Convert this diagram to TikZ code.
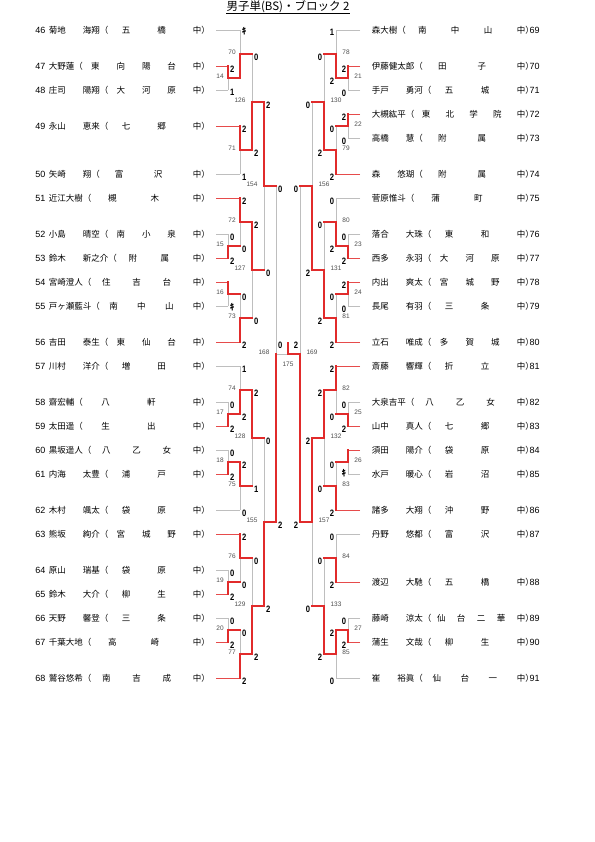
\documentclass[tikz,border=0pt]{standalone}
\usepackage{fontspec}
\setmainfont{Liberation Sans}
\newfontfamily\jpfont{Noto Sans CJK JP}
\newfontfamily\scorefont{Liberation Sans}[FakeStretch=0.82]
\usetikzlibrary{calc}
\definecolor{winred}{HTML}{E12B2B}
\definecolor{losegray}{HTML}{BEBEBE}
\definecolor{labelgray}{HTML}{4D4D4D}
\newcommand{\spreadchars}[1]{\spreadstep#1\relax}
\newcommand{\spreadstep}[1]{\ifx#1\relax\else\hskip0pt plus2fil\relax#1\expandafter\spreadstep\fi}
\newcommand{\entrytext}[3]{\hbox to #1{#2（\hskip0pt plus-1fil\relax\expandafter\spreadchars\expandafter{#3中}）}}
\tikzset{
  winline/.style={draw=winred,line width=1.4pt,line cap=rect},
  playerwin/.style={draw=winred!85!white,line width=0.9pt},
  loseline/.style={draw=losegray,line width=0.9pt},
  playername/.style={font=\jpfont\fontsize{8.5bp}{10bp}\selectfont,inner sep=0pt,anchor=west},
  entrynum/.style={font=\fontsize{9bp}{10bp}\selectfont,inner sep=0pt},
  gamescore/.style={font=\scorefont\bfseries\fontsize{9.3bp}{10bp}\selectfont,inner sep=0pt},
  kikenmark/.style={font=\jpfont\bfseries\fontsize{9bp}{10bp}\selectfont,inner sep=0pt},
  matchno/.style={font=\fontsize{6.5bp}{7bp}\selectfont,text=labelgray,inner sep=0pt},
  titletext/.style={font=\jpfont\fontsize{11.5bp}{13bp}\selectfont,inner sep=0pt}
}
\begin{document}
\begin{tikzpicture}[x=1bp,y=-1bp]
  \fill[white] (0,0) rectangle (595,842);
  \useasboundingbox (0,0) rectangle (595,842);
  % title
  \node[titletext,anchor=base] (title) at (288,10) {男子単(BS)・ブロック 2};
  \draw[line width=0.6pt] ([yshift=-0.6bp]title.south west) -- ([yshift=-0.6bp]title.south east);

  % players, left half
  \foreach \pid/\kk/\pname/\pschool in {46/0/菊地　　海翔/五橋,47/3/大野蓮/東向陽台,48/5/庄司　　陽翔/大河原,49/8/永山　　恵来/七郷,50/12/矢崎　　翔/富沢,51/14/近江大樹/槻木,52/17/小島　　晴空/南小泉,53/19/鈴木　　新之介/附属,54/21/宮崎澄人/住吉台,55/23/戸ヶ瀬藍斗/南中山,56/26/吉田　　泰生/東仙台,57/28/川村　　洋介/増田,58/31/齋宏輔/八軒,59/33/太田遥/生出,60/35/黒坂遥人/八乙女,61/37/内海　　太豊/浦戸,62/40/木村　　颯太/袋原,63/42/熊坂　　絢介/宮城野,64/45/原山　　瑞基/袋原,65/47/鈴木　　大介/柳生,66/49/天野　　馨登/三条,67/51/千葉大地/高崎,68/54/鷲谷悠希/南吉成}{
    \node[playername] (n\pid) at (48.6,{30+12*\kk}) {\entrytext{161bp}{\pname}{\pschool}};
    \node[entrynum,anchor=east] (num\pid) at (45.5,{30+12*\kk}) {\pid};
    \coordinate (s\pid) at (216,{30+12*\kk});
  }
  % players, right half
  \foreach \pid/\kk/\pname/\pschool in {69/0/森大樹/南中山,70/3/伊藤健太郎/田子,71/5/手戸　　勇河/五城,72/7/大槻紘平/東北学院,73/9/高橋　　慧/附属,74/12/森　　悠瑚/附属,75/14/菅原惟斗/蒲町,76/17/落合　　大珠/東和,77/19/西多　　永羽/大河原,78/21/内出　　爽太/宮城野,79/23/長尾　　有羽/三条,80/26/立石　　唯成/多賀城,81/28/斎藤　　響輝/折立,82/31/大泉吉平/八乙女,83/33/山中　　真人/七郷,84/35/須田　　陽介/袋原,85/37/水戸　　暖心/岩沼,86/40/諸多　　大翔/沖野,87/42/丹野　　悠都/富沢,88/46/渡辺　　大馳/五橋,89/49/藤崎　　涼太/仙台二華,90/51/蒲生　　文哉/柳生,91/54/崔　　裕眞/仙台一}{
    \node[playername] (n\pid) at (371.6,{30+12*\kk}) {\entrytext{162bp}{\pname}{\pschool}};
    \node[entrynum,anchor=west] (num\pid) at (529.5,{30+12*\kk}) {\pid};
    \coordinate (s\pid) at (360,{30+12*\kk});
  }

  % match points
  \foreach \mm/\cx/\kk in {14/228/4,15/228/18,16/228/22,17/228/32,18/228/36,19/228/46,20/228/50,
      70/240/2,71/240/10,72/240/16,73/240/24,74/240/30,75/240/38,76/240/44,77/240/52,
      126/252/6,127/252/20,128/252/34,129/252/48,154/264/13,155/264/41,168/276/27,175/288/27,
      21/348/4,22/348/8,23/348/18,24/348/22,25/348/32,26/348/36,27/348/50,
      78/336/2,79/336/10,80/336/16,81/336/24,82/336/30,83/336/38,84/336/44,85/336/52,
      130/324/6,131/324/20,132/324/34,133/324/48,156/312/13,157/312/41,169/300/27}{
    \coordinate (m\mm) at (\cx,{30+12*\kk});
  }

  % losers
  \foreach \mm/\src/\hs in {14/s48/loseline,15/s52/loseline,16/s55/loseline,17/s58/loseline,18/s60/loseline,19/s64/loseline,20/s66/loseline,
      70/s46/loseline,71/s50/loseline,72/m15/winline,73/m16/winline,74/s57/loseline,75/s62/loseline,76/m19/winline,77/m20/winline,
      126/m70/winline,127/m73/winline,128/m75/winline,129/m76/winline,154/m127/winline,155/m128/winline,168/m154/winline,
      21/s71/loseline,22/s73/loseline,23/s76/loseline,24/s79/loseline,25/s82/loseline,26/s85/loseline,27/s89/loseline,
      78/s69/loseline,79/m22/winline,80/s75/loseline,81/m24/winline,82/m25/winline,83/m26/winline,84/s87/loseline,85/s91/loseline,
      130/m78/winline,131/m80/winline,132/m83/winline,133/m84/winline,156/m130/winline,157/m133/winline,169/m156/winline,
      175/m168/loseline}{
    \draw[loseline] (\src -| m\mm) -- (m\mm);
    \draw[\hs] (\src) -- (\src -| m\mm);
  }
  % winners
  \foreach \mm/\src/\hs in {14/s47/playerwin,15/s53/playerwin,16/s54/playerwin,17/s59/playerwin,18/s61/playerwin,19/s65/playerwin,20/s67/playerwin,
      70/m14/winline,71/s49/playerwin,72/s51/playerwin,73/s56/playerwin,74/m17/winline,75/m18/winline,76/s63/playerwin,77/s68/playerwin,
      126/m71/winline,127/m72/winline,128/m74/winline,129/m77/winline,154/m126/winline,155/m129/winline,168/m155/winline,
      21/s70/playerwin,22/s72/playerwin,23/s77/playerwin,24/s78/playerwin,25/s83/playerwin,26/s84/playerwin,27/s90/playerwin,
      78/m21/winline,79/s74/playerwin,80/m23/winline,81/s80/playerwin,82/s81/playerwin,83/s86/playerwin,84/s88/playerwin,85/m27/winline,
      130/m79/winline,131/m81/winline,132/m82/winline,133/m85/winline,156/m131/winline,157/m132/winline,169/m157/winline,
      175/m169/winline}{
    \draw[\hs] (\src) -- (\src -| m\mm);
    \draw[winline] (\src -| m\mm) -- (m\mm);
  }
  \coordinate (t175) at (288,343);
  \draw[winline] (m175) -- (t175);

  % scores
  \foreach \mm/\src/\sc in {14/s47/2,14/s48/1,15/s52/0,15/s53/2,17/s58/0,17/s59/2,18/s60/0,18/s61/2,19/s64/0,19/s65/2,20/s66/0,20/s67/2,
      71/s49/2,71/s50/1,72/s51/2,72/m15/0,73/m16/0,73/s56/2,74/s57/1,74/m17/2,75/m18/2,75/s62/0,76/s63/2,76/m19/0,77/m20/0,77/s68/2,
      126/m70/0,126/m71/2,127/m72/2,127/m73/0,128/m74/2,128/m75/1,129/m76/0,129/m77/2,
      154/m126/2,154/m127/0,155/m128/0,155/m129/2,168/m154/0,168/m155/2}{
    \node[gamescore,anchor=north west] (sc\mm-\src) at ($(\src -| m\mm)+(1.8,-0.6)$) {\sc};
  }
  \foreach \mm/\src/\sc in {21/s70/2,21/s71/0,22/s72/2,22/s73/0,23/s76/0,23/s77/2,24/s78/2,24/s79/0,25/s82/0,25/s83/2,27/s89/0,27/s90/2,
      78/s69/1,78/m21/2,79/m22/0,79/s74/2,80/s75/0,80/m23/2,81/m24/0,81/s80/2,82/s81/2,82/m25/0,83/m26/0,83/s86/2,84/s87/0,84/s88/2,85/m27/2,85/s91/0,
      130/m78/0,130/m79/2,131/m80/0,131/m81/2,132/m82/2,132/m83/0,133/m84/0,133/m85/2,
      156/m130/0,156/m131/2,157/m132/2,157/m133/0,169/m156/0,169/m157/2}{
    \node[gamescore,anchor=north east] (sc\mm-\src) at ($(\src -| m\mm)+(-1.8,-0.6)$) {\sc};
  }
  \foreach \mm/\src in {16/s55,70/s46}{
    \node[kikenmark,anchor=west] (sc\mm-\src) at ($(\src -| m\mm)+(1.6,1)$) {ｷ};
  }
  \node[kikenmark,anchor=east] (sc26-s85) at ($(s85 -| m26)+(-1.6,-0.5)$) {ｷ};
  \node[gamescore,anchor=south west] (sc175-m168) at ($(m168)+(1.8,-5.5)$) {0};
  \node[gamescore,anchor=south east] (sc175-m169) at ($(m169)+(-1.8,-5.5)$) {2};

  % match numbers
  \foreach \mm/\dx in {14/-8,15/-8,16/-8,17/-8,18/-8,19/-8,20/-8,70/-8,71/-8,72/-8,73/-8,74/-8,75/-8,76/-8,77/-8,
      126/-12,127/-12,128/-12,129/-12,154/-12,155/-12,168/-12,
      21/10,22/10,23/10,24/10,25/10,26/10,27/10,78/10,79/10,80/10,81/10,82/10,83/10,84/10,85/10,
      130/12,131/12,132/12,133/12,156/12,157/12,169/12}{
    \node[matchno] (lab\mm) at ($(m\mm)+(\dx,-2)$) {\mm};
  }
  \node[matchno] (lab175) at ($(m175)+(0,10)$) {175};
\end{tikzpicture}
\end{document}
